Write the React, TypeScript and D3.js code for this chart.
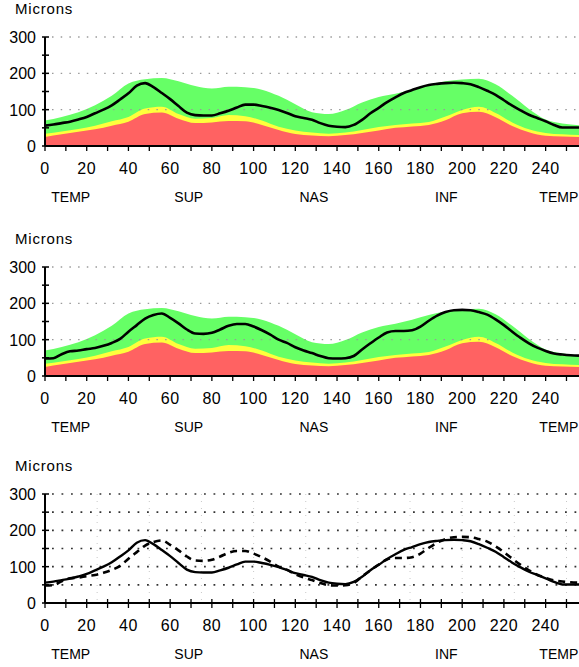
import * as d3 from 'd3';

// angle positions (samples along the scan circle)
const NORM_X = [0, 8, 16, 24, 32, 40, 48, 56, 64, 72, 80, 88, 96, 104, 112, 120, 128, 136, 144, 152, 160, 168, 176, 184, 192, 200, 208, 216, 224, 232, 240, 248, 256];
const NORM_GREEN = [70, 80, 93, 112, 138, 172, 184, 187, 178, 165, 158, 163, 162, 155, 138, 115, 93, 88, 99, 120, 135, 144, 155, 168, 178, 183, 185, 170, 138, 102, 73, 62, 57];
const NORM_YELLOW = [34, 40, 47, 56, 68, 80, 103, 108, 88, 75, 77, 85, 82, 70, 53, 43, 37, 34, 37, 44, 52, 58, 62, 66, 81, 99, 108, 91, 65, 46, 36, 32, 30];
const NORM_RED = [25, 32, 39, 46, 56, 67, 88, 92, 75, 63, 65, 69, 68, 58, 44, 33, 29, 27, 30, 36, 43, 50, 54, 58, 71, 90, 94, 79, 55, 38, 28, 26, 25];

const LINE_X = [0, 4, 8, 12, 16, 20, 24, 28, 32, 36, 40, 44, 48, 52, 56, 60, 64, 68, 72, 76, 80, 84, 88, 92, 96, 100, 104, 108, 112, 116, 120, 124, 128, 132, 136, 140, 144, 148, 152, 156, 160, 164, 168, 172, 176, 180, 184, 188, 192, 196, 200, 204, 208, 212, 216, 220, 224, 228, 232, 236, 240, 244, 248, 252, 256];
const EYE_A = [56, 59, 63, 67, 73, 80, 90, 100, 112, 128, 145, 166, 173, 162, 146, 129, 110, 92, 85, 84, 84, 90, 97, 106, 114, 114, 110, 105, 99, 91, 82, 77, 72, 63, 56, 53, 52, 58, 72, 90, 105, 121, 134, 146, 154, 162, 168, 171, 173, 174, 173, 170, 162, 152, 141, 126, 111, 98, 86, 77, 68, 58, 51, 51, 51];
const EYE_B = [48, 49, 60, 68, 70, 74, 77, 83, 91, 102, 122, 140, 158, 168, 172, 160, 145, 128, 117, 116, 119, 128, 138, 143, 143, 136, 126, 114, 100, 91, 79, 70, 63, 55, 49, 48, 49, 55, 73, 90, 106, 120, 124, 124, 126, 136, 152, 166, 176, 181, 182, 181, 176, 169, 156, 140, 122, 105, 90, 78, 69, 62, 59, 57, 56];

const Y_LABELS = [0, 100, 200, 300];
const Y_TICKS = [0, 50, 100, 150, 200, 250, 300];
const X_TICKS = [0, 10, 20, 30, 40, 50, 60, 70, 80, 90, 100, 110, 120, 130, 140, 150, 160, 170, 180, 190, 200, 210, 220, 230, 240, 250];
const X_LABELS = [0, 20, 40, 60, 80, 100, 120, 140, 160, 180, 200, 220, 240];
const V_GRID = [25, 50, 75, 100, 125, 150, 175, 200, 225, 250];
const REGIONS = ['TEMP', 'SUP', 'NAS', 'INF', 'TEMP'];
const REGION_AT = [3, 62, 122, 187, 237];

const W = 579;
const H = 667;
const FONT = '"Liberation Sans", Arial, sans-serif';

const x = d3.scaleLinear().domain([0, 256]).range([45, 579]);

type PanelProps = { top: number; kind: 'norm' | 'compare'; line?: number[] };

const Panel = ({ top, kind, line }: PanelProps) => {
    const y = d3.scaleLinear().domain([0, 300]).range([top + 109, top]);
    const y0 = y(0);
    const area = (vals: number[]) =>
        d3.area<number>()
            .x((_, i) => x(NORM_X[i]))
            .y0(y0)
            .y1(d => y(d))
            .curve(d3.curveMonotoneX)(vals) || '';
    const path = d3.line<number>()
        .x((_, i) => x(LINE_X[i]))
        .y(d => y(d))
        .curve(d3.curveMonotoneX);
    const grid = kind === 'norm' ? [100, 200, 300] : [50, 100, 150, 200, 250, 300];

    return (
        <g>
            <text x={15} y={top - 23} fontSize={15} fontFamily={FONT} letterSpacing={0.8}>Microns</text>

            {kind === 'norm' && (
                <g>
                    <path d={area(NORM_GREEN)} fill="#66ff66" />
                    <path d={area(NORM_YELLOW)} fill="#ffff3c" />
                    <path d={area(NORM_RED)} fill="#ff6262" />
                </g>
            )}

            {kind === 'compare' && V_GRID.map(v => (
                <line key={'v' + v} x1={x(v)} x2={x(v)} y1={top} y2={y0}
                    stroke="#c8c8c8" strokeWidth={1} strokeDasharray="1,6" />
            ))}

            {grid.map(g => (
                <line key={'g' + g} x1={x(0) + 7} x2={W} y1={y(g)} y2={y(g)}
                    stroke={kind === 'norm' ? '#9a9a9a' : '#333'}
                    strokeWidth={kind === 'norm' ? 1.3 : 1.6}
                    strokeDasharray={kind === 'norm' ? '1.5,7.2' : '1.8,7.7'} />
            ))}

            {/* axes */}
            <line x1={x(0)} x2={x(0)} y1={top} y2={y0} stroke="#000" strokeWidth={2} />
            <line x1={x(0)} x2={W} y1={y0} y2={y0} stroke="#000" strokeWidth={2} />
            {Y_TICKS.map(t => (
                <line key={'yt' + t} x1={x(0) - 3} x2={x(0) + 4} y1={y(t)} y2={y(t)} stroke="#000" strokeWidth={1.5} />
            ))}
            {X_TICKS.map(t => (
                <line key={'xt' + t} x1={x(t)} x2={x(t)}
                    y1={kind === 'norm' ? y0 : y0 - 4} y2={y0 + 5}
                    stroke="#000" strokeWidth={1.3} />
            ))}
            {Y_LABELS.map(t => (
                <text key={'yl' + t} x={36} y={y(t) + 6} textAnchor="end" fontSize={16} fontFamily={FONT}>{t}</text>
            ))}
            {X_LABELS.map(t => (
                <text key={'xl' + t} x={x(t)} y={y0 + 28} textAnchor="middle" fontSize={16} fontFamily={FONT} letterSpacing={0.6}>{t}</text>
            ))}
            {REGIONS.map((r, i) => (
                <text key={'r' + i} x={x(REGION_AT[i])} y={y0 + 56} fontSize={14} fontFamily={FONT}>{r}</text>
            ))}

            {kind === 'norm' && line && (
                <path d={path(line) || ''} fill="none" stroke="#000" strokeWidth={2.6} />
            )}
            {kind === 'compare' && (
                <g>
                    <path d={path(EYE_B) || ''} fill="none" stroke="#000" strokeWidth={2.6} strokeDasharray="7,5" />
                    <path d={path(EYE_A) || ''} fill="none" stroke="#000" strokeWidth={2.4} />
                </g>
            )}
        </g>
    );
};

export default function App() {
    return (
        <svg width={W} height={H} style={{ position: 'absolute', left: 0, top: 0, background: '#fff' }}>
            <Panel top={37} kind="norm" line={EYE_A} />
            <Panel top={267} kind="norm" line={EYE_B} />
            <Panel top={494} kind="compare" />
        </svg>
    );
}
